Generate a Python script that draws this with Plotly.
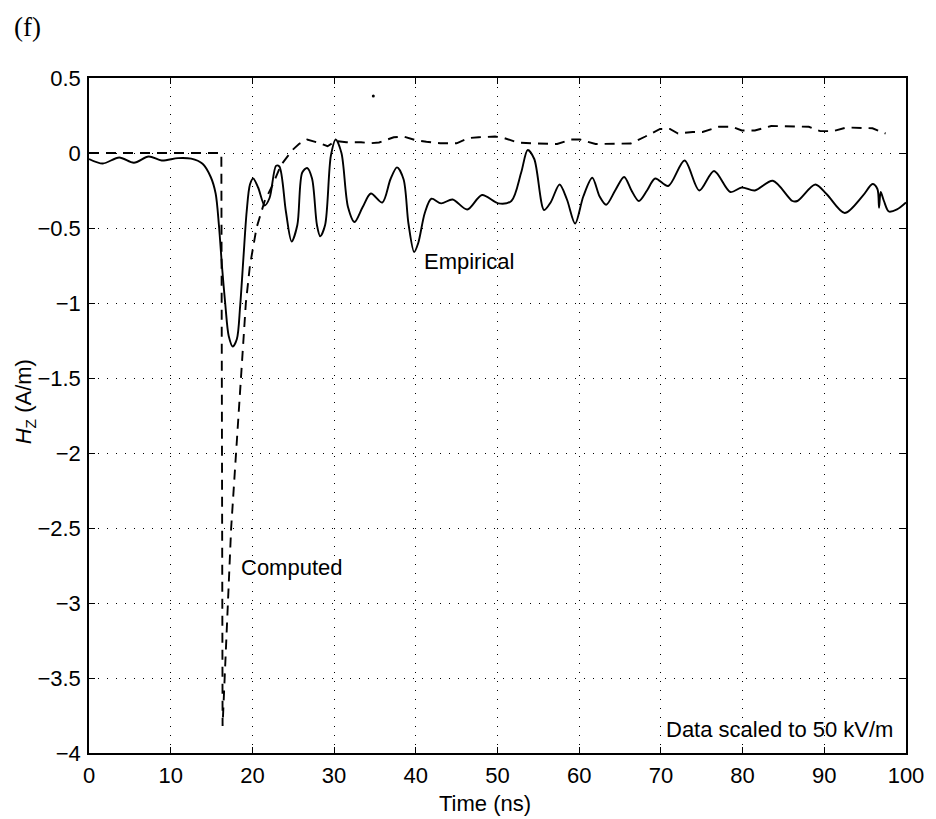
import plotly.graph_objects as go

# Empirical (solid) curve
emp_t = [0, 1.7, 3.7, 5.5, 7.3, 8.9, 10.9, 12.5, 13.9, 14.9, 15.5, 15.9, 16.3, 16.7, 17.1, 17.6,
         18.1, 18.5, 18.9, 19.3, 19.7, 20.1, 20.7, 21.5, 22.1, 22.9, 23.3, 24.1, 24.8, 25.5, 26.1,
         26.7, 27.3, 27.9, 28.3, 28.9, 29.6, 30.2, 30.9, 31.7, 32.5, 33.5, 34.5, 35.9, 36.9, 37.7,
         38.5, 39.1, 39.8, 40.3, 41.1, 41.9, 43.1, 44.5, 46.3, 48.1, 50.1, 51.7, 52.9, 53.7, 54.5,
         55.7, 56.5, 57.6, 58.5, 59.5, 60.5, 61.6, 62.5, 63.3, 64.4, 65.5, 66.4, 67.3, 68.3, 69.3,
         70.9, 72.9, 74.7, 76.5, 78.5, 79.9, 81.5, 83.7, 86.1, 86.7, 88.9, 90.3, 92.5, 94.7, 95.9,
         96.5, 96.7, 96.9, 97.3, 97.9, 98.9, 100]
emp_v = [-0.04, -0.07, -0.03, -0.065, -0.023, -0.05, -0.034, -0.038, -0.072, -0.16, -0.27, -0.48,
         -0.77, -1.02, -1.22, -1.29, -1.24, -1.02, -0.70, -0.39, -0.21, -0.17, -0.23, -0.35, -0.30,
         -0.085, -0.09, -0.39, -0.59, -0.48, -0.13, -0.10, -0.17, -0.48, -0.555, -0.48, -0.02,
         0.09, 0.0, -0.36, -0.46, -0.36, -0.27, -0.33, -0.175, -0.096, -0.175, -0.47, -0.66,
         -0.60, -0.40, -0.305, -0.336, -0.31, -0.377, -0.28, -0.336, -0.32, -0.13, 0.02, -0.04,
         -0.38, -0.33, -0.21, -0.31, -0.47, -0.29, -0.165, -0.29, -0.345, -0.25, -0.16, -0.25,
         -0.32, -0.25, -0.17, -0.22, -0.05, -0.25, -0.12, -0.26, -0.23, -0.25, -0.185, -0.32,
         -0.32, -0.21, -0.275, -0.40, -0.286, -0.207, -0.24, -0.365, -0.26, -0.32, -0.39, -0.376,
         -0.33]

# Computed (dashed) curve
comp_t = [0, 16.2, 16.35, 16.6, 17.0, 17.4, 18.0, 18.6, 19.2, 19.7, 20.5, 21.5, 22.5, 23.5, 24.9,
          25.7, 26.7, 28.3, 29.2, 30.2, 31.5, 33.3, 34.5, 35.5, 37.3, 38.5, 40.0, 41.3, 43.0, 45.0,
          46.5, 47.7, 49.7, 50.5, 52.5, 54.1, 55.7, 57.3, 59.0, 60.1, 62.0, 63.5, 65.5, 66.3, 68.1,
          69.9, 71.1, 72.1, 73.9, 75.1, 77.1, 78.7, 79.9, 81.5, 83.5, 84.7, 86.5, 88.1, 89.5, 91.1,
          92.7, 94.3, 95.9, 97.5]
comp_v = [0, 0, -3.82, -3.5, -3.0, -2.5, -2.0, -1.5, -1.0, -0.75, -0.5, -0.32, -0.21, -0.08, 0.02,
          0.06, 0.09, 0.065, 0.045, 0.08, 0.072, 0.072, 0.065, 0.07, 0.105, 0.11, 0.085, 0.075,
          0.065, 0.065, 0.10, 0.105, 0.11, 0.105, 0.07, 0.065, 0.06, 0.06, 0.09, 0.09, 0.06, 0.062,
          0.06, 0.063, 0.11, 0.16, 0.16, 0.13, 0.14, 0.14, 0.175, 0.175, 0.15, 0.15, 0.18, 0.18,
          0.175, 0.175, 0.146, 0.146, 0.17, 0.17, 0.165, 0.13]

# stray speck in the scan
speck_t = [34.8]
speck_v = [0.38]

x_ticks = list(range(0, 101, 10))
y_ticks = [0.5, 0, -0.5, -1, -1.5, -2, -2.5, -3, -3.5, -4]

fig = go.Figure()
fig.add_trace(go.Scatter(x=comp_t, y=comp_v, mode="lines",
                         line=dict(color="black", width=1.9, dash="10px,7px"),
                         showlegend=False, hoverinfo="skip"))
fig.add_trace(go.Scatter(x=emp_t, y=emp_v, mode="lines",
                         line=dict(color="black", width=1.9, shape="spline", smoothing=0.85),
                         showlegend=False, hoverinfo="skip"))
fig.add_trace(go.Scatter(x=speck_t, y=speck_v, mode="markers",
                         marker=dict(color="black", size=3), showlegend=False, hoverinfo="skip"))

font = dict(family="Liberation Sans, Arial, sans-serif", size=22, color="black")

axis_common = dict(ticks="inside", ticklen=6, tickcolor="black",
                   showline=True, linecolor="black", linewidth=1.5, mirror="allticks",
                   showgrid=True, gridcolor="black", gridwidth=1, griddash="1px,8px",
                   zeroline=False, tickfont=font, fixedrange=True)

fig.update_layout(
    width=936, height=819,
    margin=dict(l=89, r=20, t=78, b=66),
    paper_bgcolor="white", plot_bgcolor="white",
    font=font,
    xaxis=dict(range=[0, 100], tickvals=x_ticks, ticklabelstandoff=2, **axis_common),
    yaxis=dict(range=[-4, 0.5], tickvals=y_ticks, ticklabelstandoff=2, **axis_common),
    annotations=[
        dict(text="Empirical", x=40.7, y=-0.725, xref="x", yref="y", xanchor="left",
             yanchor="middle", showarrow=False, font=font),
        dict(text="Computed", x=18.4, y=-2.76, xref="x", yref="y", xanchor="left",
             yanchor="middle", showarrow=False, font=font),
        dict(text="Data scaled to 50 kV/m", x=98.6, y=-3.84, xref="x", yref="y",
             xanchor="right", yanchor="middle", showarrow=False, font=font),
        dict(text="Time (ns)", x=0.485, y=-0.075, xref="paper", yref="paper", xanchor="center",
             yanchor="middle", showarrow=False, font=font),
        dict(text="<i>H</i><sub>Z</sub> (A/m)", x=-0.078, y=0.52, xref="paper", yref="paper",
             xanchor="center", yanchor="middle", textangle=-90, showarrow=False, font=font),
        dict(text="(f)", x=-0.094, y=1.076, xref="paper", yref="paper", xanchor="left",
             yanchor="middle", showarrow=False,
             font=dict(family="Liberation Serif, Times New Roman, serif", size=27, color="black")),
    ],
)

fig.write_html("out.html")
